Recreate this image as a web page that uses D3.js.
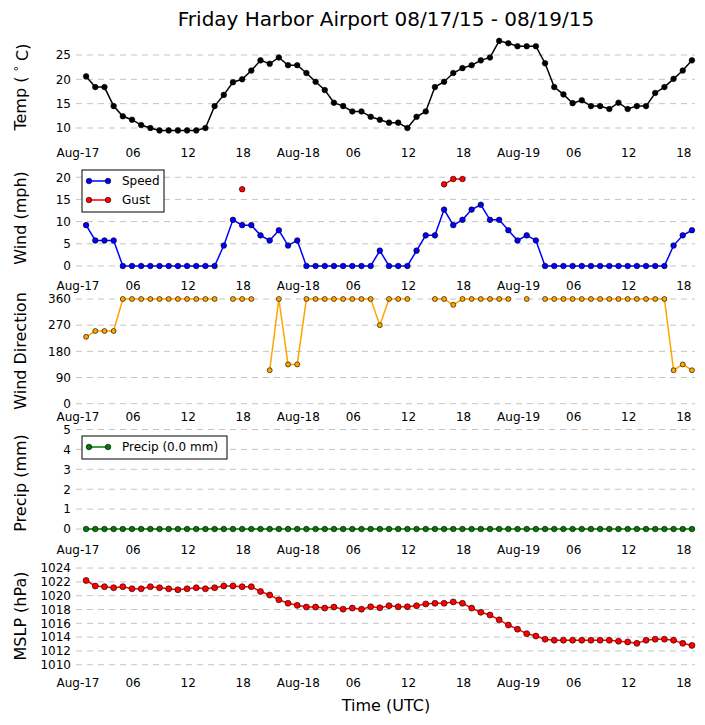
<!DOCTYPE html>
<html>
<head>
<meta charset="utf-8">
<script src="https://cdn.jsdelivr.net/npm/d3@7"></script>
<style>
  body { margin: 0; background: #fff; }
  text { font-family: "DejaVu Sans", sans-serif; fill: #000; }
</style>
</head>
<body>
<script>
// Observations every hour at :53, starting Aug-17 00:53 UTC
const firstObs = new Date(Date.UTC(2015, 7, 17, 0, 53));

const tempC = [20.6, 18.4, 18.4, 14.5, 12.4, 11.7, 10.6, 10.0, 9.5, 9.5, 9.5, 9.5, 9.5, 10.0, 14.5, 16.8,
  19.4, 20.0, 21.8, 23.9, 23.2, 24.5, 22.9, 22.9, 21.3, 19.5, 17.8, 15.2, 14.5, 13.4, 13.4, 12.3,
  11.7, 11.1, 11.1, 10.0, 12.3, 13.4, 18.4, 19.5, 21.3, 22.3, 22.9, 23.9, 24.5, 27.9, 27.4, 26.8,
  26.8, 26.8, 23.3, 18.4, 16.9, 15.1, 15.7, 14.5, 14.5, 13.9, 15.2, 13.9, 14.5, 14.5, 17.2, 18.4,
  20.1, 21.8, 23.9];

const windSpeed = [9.2, 5.75, 5.75, 5.75, 0, 0, 0, 0, 0, 0, 0, 0, 0, 0, 0, 4.6,
  10.4, 9.2, 9.2, 6.9, 5.75, 8.05, 4.6, 5.75, 0, 0, 0, 0, 0, 0, 0, 0,
  3.45, 0, 0, 0, 3.45, 6.9, 6.9, 12.7, 9.2, 10.4, 12.7, 13.8, 10.4, 10.4, 8.05, 5.75,
  6.9, 5.75, 0, 0, 0, 0, 0, 0, 0, 0, 0, 0, 0, 0, 0, 0,
  4.6, 6.9, 8.05];

const windGust = windSpeed.map(() => null);
windGust[17] = 17.3;
windGust[39] = 18.4;
windGust[40] = 19.6;
windGust[41] = 19.6;

const windDir = [230, 250, 250, 250, 360, 360, 360, 360, 360, 360, 360, 360, 360, 360, 360, null,
  360, 360, 360, null, 115, 360, 135, 135, 360, 360, 360, 360, 360, 360, 360, 360,
  270, 360, 360, 360, null, null, 360, 360, 340, 360, 360, 360, 360, 360, 360, null,
  360, null, 360, 360, 360, 360, 360, 360, 360, 360, 360, 360, 360, 360, 360, 360,
  115, 135, 115];

const precip = windSpeed.map(() => 0);

const mslp = [1022.2, 1021.4, 1021.3, 1021.15, 1021.3, 1021.0, 1021.0, 1021.3, 1021.15, 1021.0, 1020.85, 1021.0, 1021.15, 1021.0, 1021.15, 1021.4,
  1021.4, 1021.3, 1021.3, 1020.6, 1020.1, 1019.4, 1018.9, 1018.6, 1018.35, 1018.35, 1018.2, 1018.35, 1018.05, 1018.2, 1018.05, 1018.4,
  1018.25, 1018.55, 1018.4, 1018.4, 1018.55, 1018.8, 1018.9, 1018.9, 1019.1, 1018.9, 1018.2, 1017.6, 1017.2, 1016.5, 1015.75, 1015.15,
  1014.5, 1014.15, 1013.7, 1013.55, 1013.55, 1013.55, 1013.55, 1013.55, 1013.55, 1013.55, 1013.4, 1013.3, 1013.1, 1013.55, 1013.7, 1013.7,
  1013.55, 1013.1, 1012.8];

const obsTimes = tempC.map((_, i) => d3.utcHour.offset(firstObs, i));

const width = 705;
const height = 725;

const svg = d3.select("body")
    .append("svg")
    .attr("width", width)
    .attr("height", height);

// Shared time axis
const x = d3.scaleUtc()
    .domain([new Date(Date.UTC(2015, 7, 16, 23, 47)), new Date(Date.UTC(2015, 7, 19, 19, 13))])
    .range([76, 695]);

const xTicks = d3.utcHour.every(6).range(new Date(Date.UTC(2015, 7, 17)), new Date(Date.UTC(2015, 7, 19, 19)));
const xFormat = d => d.getUTCHours() === 0 ? d3.utcFormat("%b-%d")(d) : d3.utcFormat("%H")(d);

// Title
svg.append("text")
    .attr("x", 386)
    .attr("y", 26)
    .attr("text-anchor", "middle")
    .style("font-size", "20px")
    .text("Friday Harbor Airport 08/17/15 - 08/19/15");

// Panel definitions: y domain, pixel range, ticks, label
const panels = [
    { label: "Temp", domain: [8.6, 28.8], range: [134.8, 36.5],
      ticks: [10, 15, 20, 25], xLabelY: 153, labelY: 87 },
    { label: "Wind (mph)", domain: [-1, 21], range: [270.4, 172.8],
      ticks: [0, 5, 10, 15, 20], xLabelY: 286, labelY: 218 },
    { label: "Wind Direction", domain: [-10, 370], range: [406.6, 296.1],
      ticks: [0, 90, 180, 270, 360], xLabelY: 416.5, labelY: 351 },
    { label: "Precip (mm)", domain: [-0.25, 5], range: [534, 429.5],
      ticks: [0, 1, 2, 3, 4, 5], xLabelY: 550, labelY: 483 },
    { label: "MSLP (hPa)", domain: [1009.5, 1024.5], range: [668.2, 564.6],
      ticks: [1010, 1012, 1014, 1016, 1018, 1020, 1022, 1024], xLabelY: 683, labelY: 616 }
];

panels.forEach(p => {
    p.y = d3.scaleLinear().domain(p.domain).range(p.range);
    const g = svg.append("g");
    p.g = g;

    // dashed grid
    g.append("g")
        .selectAll("line")
        .data(p.ticks)
        .enter()
        .append("line")
        .attr("x1", x.range()[0])
        .attr("x2", x.range()[1])
        .attr("y1", d => p.y(d))
        .attr("y2", d => p.y(d))
        .style("stroke", "#c4c4c4")
        .style("stroke-width", 1)
        .style("stroke-dasharray", "6,5");

    // y tick labels
    g.append("g")
        .selectAll("text")
        .data(p.ticks)
        .enter()
        .append("text")
        .attr("x", 71)
        .attr("y", d => p.y(d))
        .attr("dy", "0.36em")
        .attr("text-anchor", "end")
        .style("font-size", "12px")
        .text(d => d);

    // x tick labels
    g.append("g")
        .selectAll("text")
        .data(xTicks)
        .enter()
        .append("text")
        .attr("x", d => x(d))
        .attr("y", p.xLabelY)
        .attr("dy", "0.36em")
        .attr("text-anchor", "middle")
        .style("font-size", "12px")
        .text(xFormat);

    // y axis label
    const lab = g.append("text")
        .attr("transform", `translate(26,${p.labelY}) rotate(-90)`)
        .attr("text-anchor", "middle")
        .style("font-size", "16px");
    if (p.label === "Temp") {
        lab.append("tspan").text("Temp ( ");
        lab.append("tspan").attr("dy", "-0.35em").style("font-size", "11px").text("\u00b0");
        lab.append("tspan").attr("dy", "0.35em").text(" C)");
    } else {
        lab.text(p.label);
    }
});

function drawSeries(p, values, color, r) {
    const pts = values.map((v, i) => ({ t: obsTimes[i], v: v }));
    const line = d3.line()
        .defined(d => d.v !== null)
        .x(d => x(d.t))
        .y(d => p.y(d.v));
    p.g.append("path")
        .datum(pts)
        .attr("d", line)
        .style("fill", "none")
        .style("stroke", color)
        .style("stroke-width", 1.5);
    p.g.append("g")
        .selectAll("circle")
        .data(pts.filter(d => d.v !== null))
        .enter()
        .append("circle")
        .attr("cx", d => x(d.t))
        .attr("cy", d => p.y(d.v))
        .attr("r", r)
        .style("fill", color)
        .style("stroke", "#000")
        .style("stroke-width", 0.6);
}

drawSeries(panels[0], tempC, "#000000", 2.8);
drawSeries(panels[1], windSpeed, "#0000ff", 2.8);
drawSeries(panels[1], windGust, "#ff0000", 2.8);
drawSeries(panels[2], windDir, "#ffa500", 2.5);
drawSeries(panels[3], precip, "#007a00", 2.8);
drawSeries(panels[4], mslp, "#ff0000", 3);

// Legends
function legend(x0, y0, w, entries) {
    const g = svg.append("g");
    g.append("rect")
        .attr("x", x0)
        .attr("y", y0)
        .attr("width", w)
        .attr("height", entries.length * 19 + 4)
        .style("fill", "#fff")
        .style("stroke", "#000")
        .style("stroke-width", 1);
    entries.forEach((e, i) => {
        const cy = y0 + 11 + i * 19;
        g.append("line")
            .attr("x1", x0 + 7).attr("x2", x0 + 26)
            .attr("y1", cy).attr("y2", cy)
            .style("stroke", e.color)
            .style("stroke-width", 1.5);
        [x0 + 7, x0 + 26].forEach(cx => {
            g.append("circle")
                .attr("cx", cx).attr("cy", cy).attr("r", 2.8)
                .style("fill", e.color)
                .style("stroke", "#000")
                .style("stroke-width", 0.6);
        });
        g.append("text")
            .attr("x", x0 + 40)
            .attr("y", cy)
            .attr("dy", "0.36em")
            .style("font-size", "12px")
            .text(e.name);
    });
}

legend(82, 170, 82, [{ name: "Speed", color: "#0000ff" }, { name: "Gust", color: "#ff0000" }]);
legend(82, 436, 145, [{ name: "Precip (0.0 mm)", color: "#007a00" }]);

// X axis title
svg.append("text")
    .attr("x", 386)
    .attr("y", 705)
    .attr("dy", "0.36em")
    .attr("text-anchor", "middle")
    .style("font-size", "16px")
    .text("Time (UTC)");
</script>
</body>
</html>
